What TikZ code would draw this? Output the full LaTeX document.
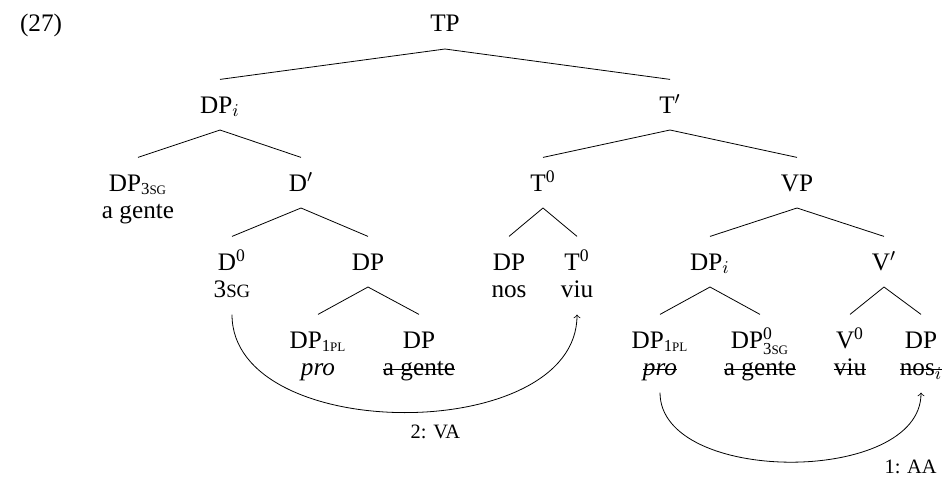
\documentclass[tikz,border=0pt]{standalone}
\usepackage{amsmath}
\usepackage{fontspec}
\setmainfont{Liberation Serif}
\usetikzlibrary{positioning}

\newcommand{\fsc}[1]{{\fontsize{9.4}{10}\selectfont\MakeUppercase{#1}}}
\newcommand{\agr}[2]{\text{\fontsize{8.4}{9}\selectfont #1\fontsize{6.5}{7}\selectfont\MakeUppercase{#2}}}
\newsavebox{\strikebox}
\newcommand{\strike}[1]{\sbox{\strikebox}{#1}\rlap{\usebox{\strikebox}}\rule[0.24em]{\wd\strikebox}{0.45pt}}

\begin{document}
\begin{tikzpicture}[x=0.5pt, y=-0.5pt,
			cat/.style={anchor=base, text height=8.3pt, text depth=0pt,
				inner xsep=1pt, inner ysep=8.3pt, font=\fontsize{12.6}{14.5}\selectfont},
			lex/.style={cat, below=13.8pt of #1, anchor=base},
			lbl/.style={font=\fontsize{10.2}{12}\selectfont, inner sep=2pt}
			]
			\useasboundingbox (0,0) rectangle (945,482);
			
			% example number and root
			\node[cat] (ex) at (41,32) {(27)};
			\node[cat] (tp) at (445,32) {TP};
			
			% second and third rows
			\node[cat] (dpi) at (220,113) {DP$_i$};
			\node[cat] (tbar) at (670,113) {T$'$};
			\node[cat] (dpsg) at (138,191) {DP$_{\agr{3}{sg}}$};
			\node[lex=dpsg.base] (wagente) {a gente};
			\node[cat] (dbar) at (301,191) {D$'$};
			\node[cat] (tzero) at (543,191) {T$^{\text{0}}$};
			\node[cat] (vp) at (797,191) {VP};
			
			% fourth row
			\node[cat] (dzero) at (232,270) {D$^{\text{0}}$};
			\node[lex=dzero.base] (w3sg) {3\fsc{sg}};
			\node[cat] (dp) at (368,270) {DP};
			\node[cat] (dpnos) at (509,270) {DP};
			\node[lex=dpnos.base] (wnos) {nos};
			\node[cat] (tviu) at (577,270) {T$^{\text{0}}$};
			\node[lex=tviu.base] (wviu) {viu};
			\node[cat] (dpj) at (710,270) {DP$_i$};
			\node[cat] (vbar) at (884,270) {V$'$};
			
			% fifth row
			\node[cat] (dppro) at (318,348) {DP$_{\agr{1}{pl}}$};
			\node[lex=dppro.base] (wpro) {\textit{pro}};
			\node[cat] (dpgente) at (419,348) {DP};
			\node[lex=dpgente.base] (wgente) {\strike{a gente}};
			\node[cat] (dpproj) at (660,348) {DP$_{\agr{1}{pl}}$};
			\node[lex=dpproj.base] (wproj) {\strike{\textit{pro}}};
			\node[cat] (dpzero) at (760,348) {DP$^{\text{0}}_{\agr{3}{sg}}$};
			\node[lex=dpzero.base] (wgentej) {\strike{a gente}};
			\node[cat] (vzero) at (850,348) {V$^{\text{0}}$};
			\node[lex=vzero.base] (wviuj) {\strike{viu}};
			\node[cat] (dpnosi) at (921,348) {DP};
			\node[lex=dpnosi.base] (wnosi) {\strike{nos$_i$}};
			
			% branches
			\draw (tp.south) -- (dpi.north) (tp.south) -- (tbar.north);
			\draw (dpi.south) -- (dpsg.north) (dpi.south) -- (dbar.north);
			\draw (tbar.south) -- (tzero.north) (tbar.south) -- (vp.north);
			\draw (dbar.south) -- (dzero.north) (dbar.south) -- (dp.north);
			\draw (tzero.south) -- (dpnos.north) (tzero.south) -- (tviu.north);
			\draw (vp.south) -- (dpj.north) (vp.south) -- (vbar.north);
			\draw (dp.south) -- (dppro.north) (dp.south) -- (dpgente.north);
			\draw (dpj.south) -- (dpproj.north) (dpj.south) -- (dpzero.north);
			\draw (vbar.south) -- (vzero.north) (vbar.south) -- (dpnosi.north);
			
			% movement arrows
			\draw[->] (w3sg.south) to[out=-90, in=-90, looseness=0.97]
				node[lbl, pos=0.56, below=5pt] (va) {2: VA} (wviu.south);
			\draw[->] (wproj.south) to[out=-90, in=-90, looseness=0.91]
				node[lbl, pos=0.88, below=17pt] (aa) {1: AA} (wnosi.south);
			
		\end{tikzpicture}
\end{document}
